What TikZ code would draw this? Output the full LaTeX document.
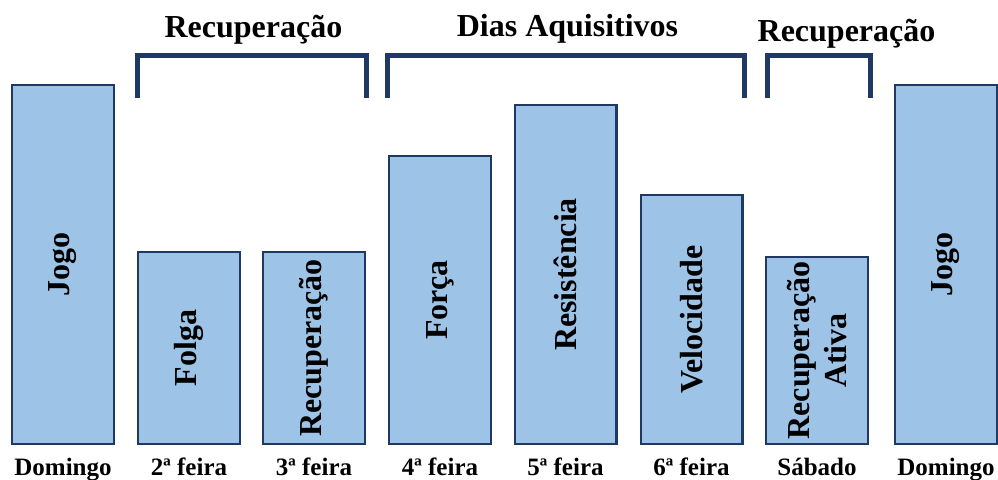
\documentclass[tikz,border=0pt]{standalone}
\usepackage{fontspec}
\setmainfont{Liberation Serif}
\usepackage{tikz}
\definecolor{barfill}{HTML}{9DC3E6}
\definecolor{barline}{HTML}{1F3864}

\begin{document}
\begin{tikzpicture}[x=1pt, y=1pt,
    bar/.style={draw=barline, fill=barfill, line width=2.2pt, minimum width=101.8pt, anchor=south, inner sep=0pt},
    barlabel/.style={rotate=90, font=\fontsize{32}{37}\selectfont\bfseries, align=center, inner sep=0pt},
    daylabel/.style={font=\fontsize{25}{30}\selectfont\bfseries, anchor=base},
    grouplabel/.style={font=\fontsize{32}{38}\selectfont\bfseries, anchor=base},
    bracket/.style={draw=barline, line width=5pt, line join=miter}]
    \useasboundingbox (0,0) rectangle (998,479);

    \node[bar, minimum height=358.8pt] (dom1) at (63,34) {};
    \node[bar, minimum height=191.8pt] (seg) at (189,34) {};
    \node[bar, minimum height=191.8pt] (ter) at (314,34) {};
    \node[bar, minimum height=287.8pt] (qua) at (440,34) {};
    \node[bar, minimum height=338.8pt] (qui) at (565.5,34) {};
    \node[bar, minimum height=248.8pt] (sex) at (691.5,34) {};
    \node[bar, minimum height=186.8pt] (sab) at (817,34) {};
    \node[bar, minimum height=358.8pt] (dom2) at (946,34) {};

    \node[barlabel] (jogo1) at (dom1.center) {Jogo};
    \node[barlabel] (folga) at (seg.center) {Folga};
    \node[barlabel] (recup) at (ter.center) {Recuperação};
    \node[barlabel] (forca) at (qua.center) {Força};
    \node[barlabel] (resist) at (qui.center) {Resistência};
    \node[barlabel] (veloc) at (sex.center) {Velocidade};
    \node[barlabel] (ativa) at (sab.center) {Recuperação\\Ativa};
    \node[barlabel] (jogo2) at (dom2.center) {Jogo};

    \node[daylabel] (d1) at ([yshift=-30pt]dom1.south) {Domingo};
    \node[daylabel] (d2) at ([yshift=-30pt]seg.south) {2ª feira};
    \node[daylabel] (d3) at ([yshift=-30pt]ter.south) {3ª feira};
    \node[daylabel] (d4) at ([yshift=-30pt]qua.south) {4ª feira};
    \node[daylabel] (d5) at ([yshift=-30pt]qui.south) {5ª feira};
    \node[daylabel] (d6) at ([yshift=-30pt]sex.south) {6ª feira};
    \node[daylabel] (d7) at ([yshift=-30pt]sab.south) {Sábado};
    \node[daylabel] (d8) at ([yshift=-30pt]dom2.south) {Domingo};

    \draw[bracket] (137.5,381) -- (137.5,423.5) -- (366.5,423.5) -- (366.5,381);
    \draw[bracket] (387.5,381) -- (387.5,423.5) -- (744.5,423.5) -- (744.5,381);
    \draw[bracket] (767.5,381) -- (767.5,423.5) -- (870.5,423.5) -- (870.5,381);

    \node[grouplabel] (rec1) at (253.5,441) {Recuperação};
    \node[grouplabel] (aquis) at (567.5,442) {Dias Aquisitivos};
    \node[grouplabel] (rec2) at (846.5,437) {Recuperação};
\end{tikzpicture}
\end{document}
